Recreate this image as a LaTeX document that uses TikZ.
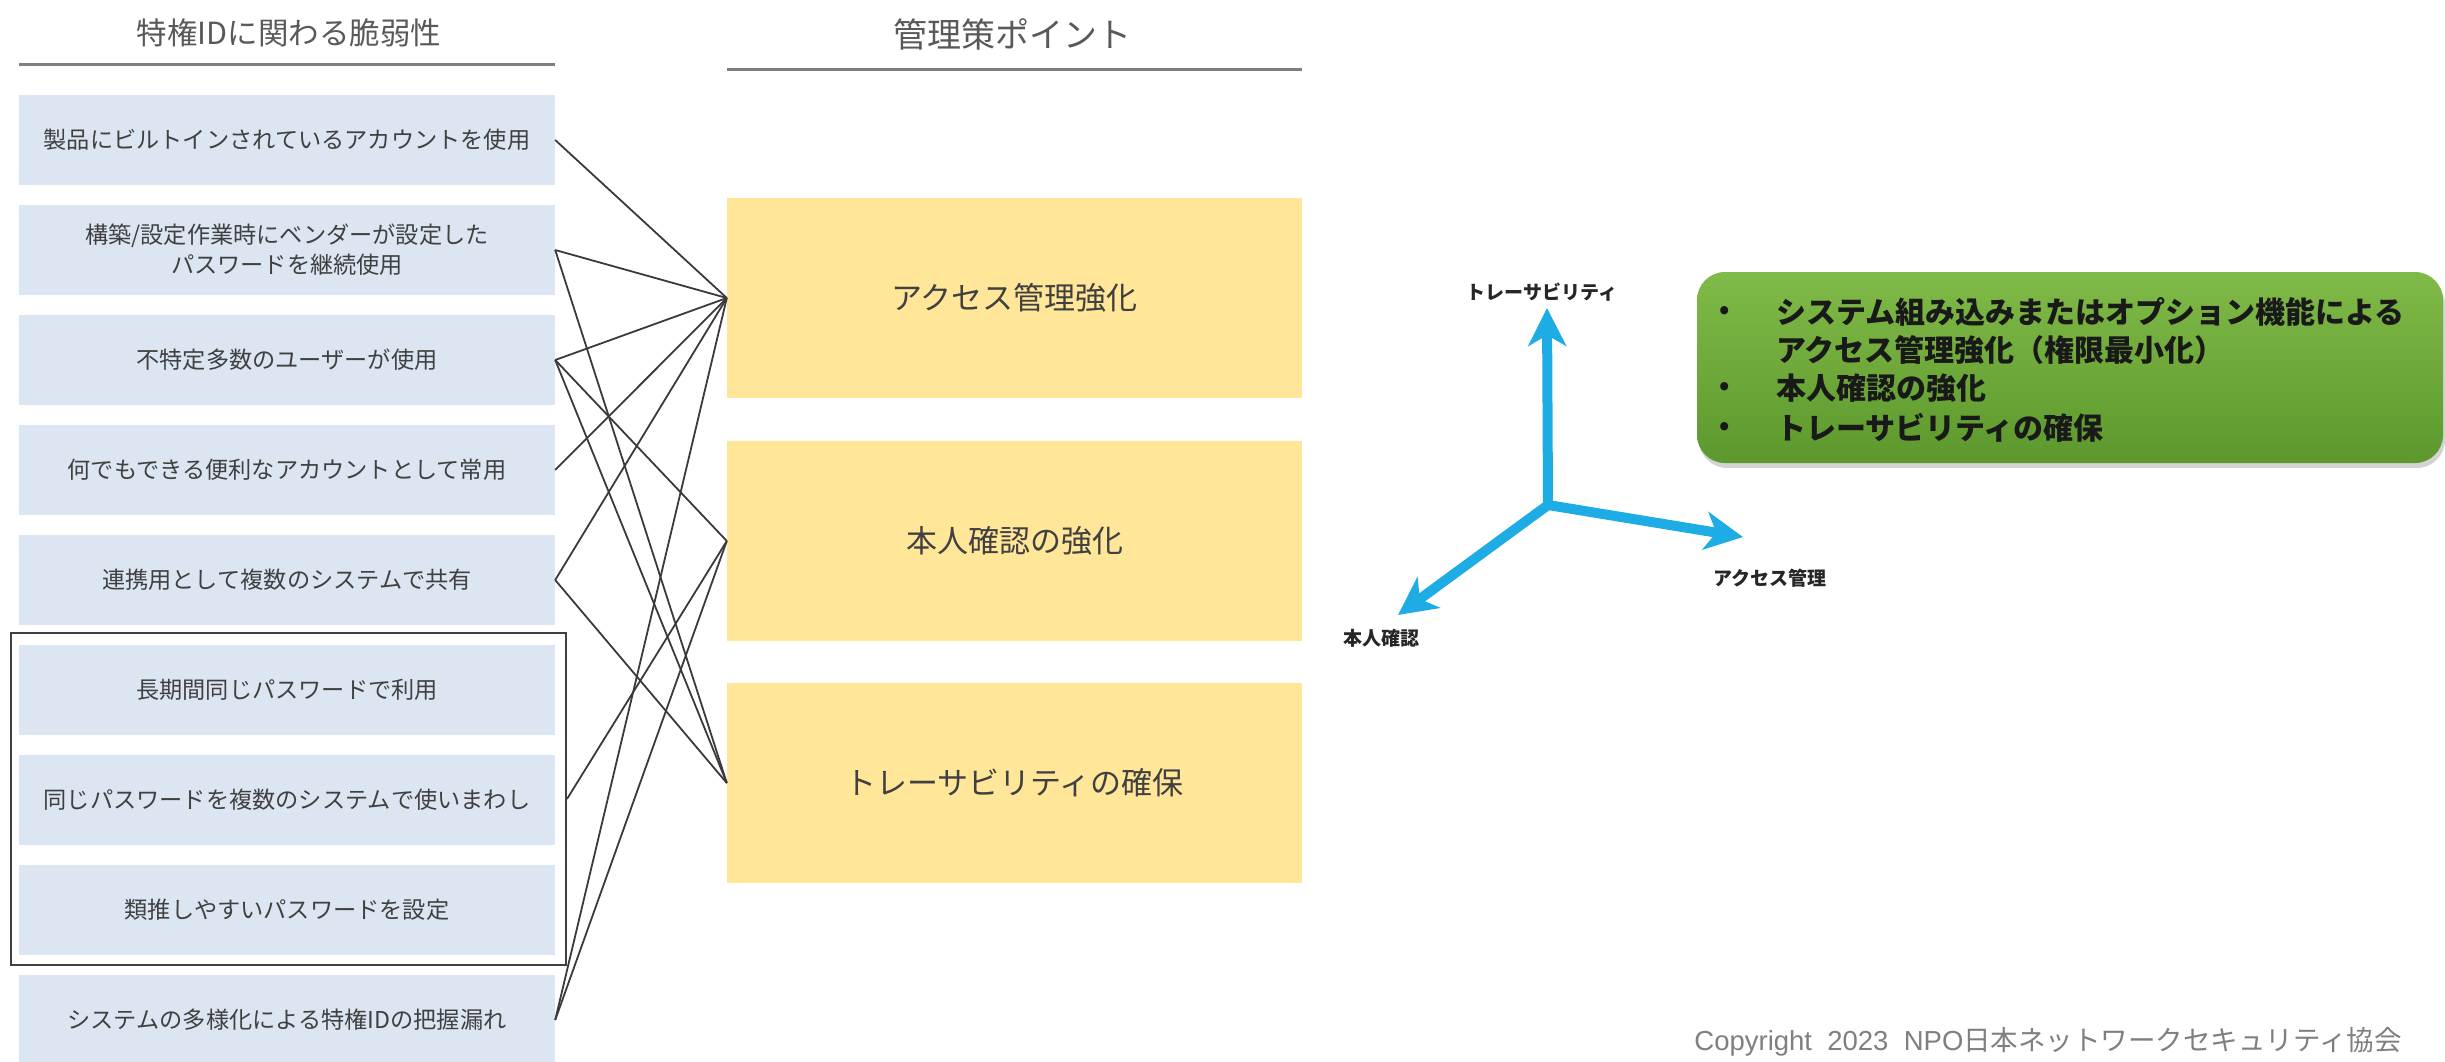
\documentclass[tikz,border=0pt]{standalone}
\usepackage{fontspec}
\setmainfont{Noto Sans CJK JP}
\newfontfamily\latinfont{Liberation Sans}
\usetikzlibrary{arrows.meta,shadows}

\definecolor{boxblue}{HTML}{DCE6F2}
\definecolor{boxyellow}{HTML}{FFE699}
\definecolor{txtgray}{HTML}{404040}
\definecolor{headgray}{HTML}{595959}
\definecolor{rulegray}{HTML}{7F7F7F}
\definecolor{linegray}{HTML}{3A3A3A}
\definecolor{arrowblue}{RGB}{30,172,228}
\definecolor{greentop}{RGB}{128,186,72}
\definecolor{greenbot}{RGB}{92,152,44}
\definecolor{copygray}{HTML}{7F7F7F}

\tikzset{
  vulnbox/.style={fill=boxblue, minimum width=536pt, minimum height=90pt, inner sep=0pt,
    text=txtgray, font=\fontsize{23.2pt}{30pt}\selectfont, align=center},
  measbox/.style={fill=boxyellow, minimum width=575pt, minimum height=200pt, inner sep=0pt,
    text=txtgray, font=\fontsize{31pt}{36pt}\selectfont},
  heading/.style={text=headgray, inner sep=0pt},
  headrule/.style={draw=rulegray, line width=3pt},
  link/.style={draw=linegray, line width=1.8pt},
  axisarrow/.style={draw=arrowblue, line width=10pt, line cap=round,
    -{Stealth[length=38pt,width=38pt,inset=11pt]}},
  axislabel/.style={font=\bfseries\fontsize{19pt}{22pt}\selectfont, text=black!85, inner sep=0pt},
  greenitem/.style={anchor=west, font=\bfseries\fontsize{30pt}{36pt}\selectfont, text=black!90, inner sep=0pt},
  bulletdot/.style={font=\bfseries\fontsize{26pt}{30pt}\selectfont, text=black!90, inner sep=0pt},
}

\begin{document}
\begin{tikzpicture}[x=1pt,y=-1pt]
\useasboundingbox (0,0) rectangle (2445,1061);

% headings
\node[heading, font=\fontsize{30.5pt}{36pt}\selectfont] (h1) at (289,33) {特権IDに関わる脆弱性};
\node[heading, font=\fontsize{34pt}{40pt}\selectfont] (h2) at (1012,34) {管理策ポイント};
\draw[headrule] (19,64) -- (555,64);
\draw[headrule] (727,69) -- (1302,69);

% vulnerability boxes
\node[vulnbox] (v1) at (287,140) {製品にビルトインされているアカウントを使用};
\node[vulnbox] (v2) at (287,250) {構築/設定作業時にベンダーが設定した\\パスワードを継続使用};
\node[vulnbox] (v3) at (287,360) {不特定多数のユーザーが使用};
\node[vulnbox] (v4) at (287,470) {何でもできる便利なアカウントとして常用};
\node[vulnbox] (v5) at (287,580) {連携用として複数のシステムで共有};
\node[vulnbox] (v6) at (287,690) {長期間同じパスワードで利用};
\node[vulnbox] (v7) at (287,800) {同じパスワードを複数のシステムで使いまわし};
\node[vulnbox] (v8) at (287,910) {類推しやすいパスワードを設定};
\node[vulnbox] (v9) at (287,1020) {システムの多様化による特権IDの把握漏れ};

% group outline
\node[draw=txtgray, line width=2pt, minimum width=555pt, minimum height=332pt, inner sep=0pt] (grp) at (288.5,799) {};

% measure boxes
\node[measbox] (mA) at (1014.5,298) {アクセス管理強化};
\node[measbox] (mB) at (1014.5,541) {本人確認の強化};
\node[measbox] (mC) at (1014.5,783) {トレーサビリティの確保};

% links
\draw[link] (v1.east) -- (mA.west);
\draw[link] (v2.east) -- (mA.west);
\draw[link] (v2.east) -- (mC.west);
\draw[link] (v3.east) -- (mA.west);
\draw[link] (v3.east) -- (mB.west);
\draw[link] (v3.east) -- (mC.west);
\draw[link] (v4.east) -- (mA.west);
\draw[link] (v5.east) -- (mA.west);
\draw[link] (v5.east) -- (mC.west);
\draw[link] (grp.east) -- (mB.west);
\draw[link] (v9.east) -- (mA.west);
\draw[link] (v9.east) -- (mB.west);

% axes
\coordinate (o) at (1548,505);
\coordinate (tU) at (1547,308);
\coordinate (tR) at (1743,537);
\coordinate (tL) at (1398,615);
\draw[axisarrow] (o) -- (tU);
\draw[axisarrow] (o) -- (tR);
\draw[axisarrow] (o) -- (tL);
\node[axislabel] (lU) at (1542,292) {トレーサビリティ};
\node[axislabel, anchor=west] (lR) at (1713,578) {アクセス管理};
\node[axislabel] (lL) at (1381,638) {本人確認};

% green summary box
\node[rounded corners=28pt, top color=greentop, bottom color=greenbot,
      drop shadow={opacity=0.35, shadow xshift=2pt, shadow yshift=-5pt},
      minimum width=746pt, minimum height=191pt, inner sep=0pt] (gbox) at (2070,367.5) {};
\node[bulletdot] (b1) at (1725,312) {•};
\node[bulletdot] (b2) at (1725,388) {•};
\node[bulletdot] (b3) at (1725,428) {•};
\node[greenitem] (g1) at (1776,312) {システム組み込みまたはオプション機能による};
\node[greenitem] (g2) at (1776,350) {アクセス管理強化（権限最小化）};
\node[greenitem] (g3) at (1776,388) {本人確認の強化};
\node[greenitem] (g4) at (1776,428) {トレーサビリティの確保};

% copyright
\node[anchor=east, text=copygray, font=\fontsize{27.5pt}{32pt}\selectfont, inner sep=0pt] (copy) at (2402,1042)
  {{\latinfont Copyright\ \ 2023\ \ NPO}日本ネットワークセキュリティ協会};
\end{tikzpicture}
\end{document}
